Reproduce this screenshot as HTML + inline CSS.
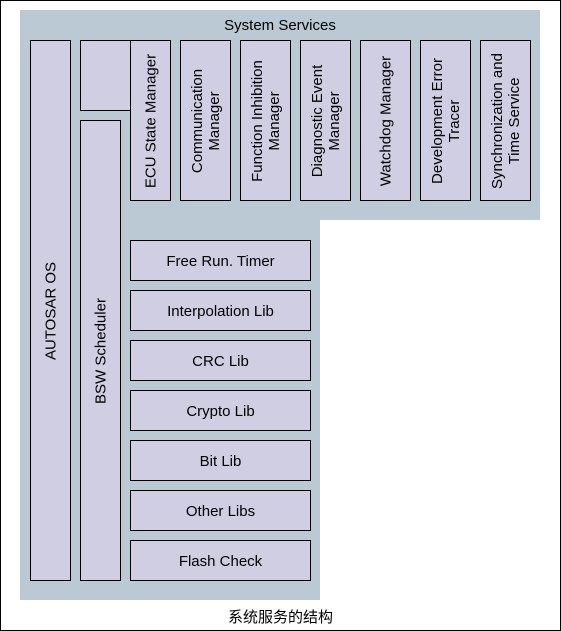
<!DOCTYPE html>
<html><head><meta charset="utf-8"><style>
*{margin:0;padding:0;box-sizing:border-box}
body{width:561px;height:631px;background:#fff;position:relative;overflow:hidden;font-family:"Liberation Sans","Noto Sans CJK SC",sans-serif;font-size:15px;color:#000}
.frame{position:absolute;left:0;top:0;width:561px;height:631px;border:1px solid #000}
.bg{position:absolute;background:#bac9d3}
.b{position:absolute;background:#d0cee2;border:1px solid #000;display:flex;align-items:center;justify-content:center;text-align:center;line-height:17px;padding-top:2px}
.r{position:absolute;left:50%;top:50%;transform:translate(-50%,-50%) rotate(-90deg);text-align:center;line-height:17px;white-space:nowrap}
</style></head><body>
<div class="frame"></div>
<div class="bg" style="left:20px;top:10px;width:520px;height:210px"></div>
<div class="bg" style="left:20px;top:10px;width:300px;height:590px"></div>
<div style="position:absolute;left:20px;top:17px;width:520px;text-align:center">System Services</div>
<div class="b" style="left:30px;top:40px;width:41px;height:541px"><div class="r">AUTOSAR OS</div></div>
<div class="b" style="left:80px;top:40px;width:51px;height:71px"></div>
<div class="b" style="left:80px;top:120px;width:41px;height:461px"><div class="r">BSW Scheduler</div></div>
<div class="b" style="left:130px;top:40px;width:41px;height:161px"><div class="r">ECU State Manager</div></div>
<div class="b" style="left:180px;top:40px;width:51px;height:161px"><div class="r">Communication<br>Manager</div></div>
<div class="b" style="left:240px;top:40px;width:51px;height:161px"><div class="r">Function Inhibition<br>Manager</div></div>
<div class="b" style="left:300px;top:40px;width:51px;height:161px"><div class="r">Diagnostic Event<br>Manager</div></div>
<div class="b" style="left:360px;top:40px;width:51px;height:161px"><div class="r">Watchdog Manager</div></div>
<div class="b" style="left:420px;top:40px;width:51px;height:161px"><div class="r">Development Error<br>Tracer</div></div>
<div class="b" style="left:480px;top:40px;width:51px;height:161px"><div class="r">Synchronization and<br>Time Service</div></div>
<div class="b" style="left:130px;top:240px;width:181px;height:41px">Free Run. Timer</div>
<div class="b" style="left:130px;top:290px;width:181px;height:41px">Interpolation Lib</div>
<div class="b" style="left:130px;top:340px;width:181px;height:41px">CRC Lib</div>
<div class="b" style="left:130px;top:390px;width:181px;height:41px">Crypto Lib</div>
<div class="b" style="left:130px;top:440px;width:181px;height:41px">Bit Lib</div>
<div class="b" style="left:130px;top:490px;width:181px;height:41px">Other Libs</div>
<div class="b" style="left:130px;top:540px;width:181px;height:41px">Flash Check</div>
<div style="position:absolute;left:0;top:606px;width:561px;text-align:center">系统服务的结构</div>
</body></html>
